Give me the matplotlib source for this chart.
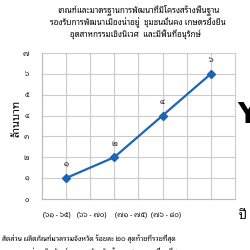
import matplotlib
matplotlib.use('Agg')
import matplotlib.pyplot as plt

plt.rcParams['font.family'] = ['Noto Sans Thai Looped', 'Loma', 'DejaVu Sans']

# data
periods = ['(๖๑ - ๖๕)', '(๖๖ - ๗๐)', '(๗๑ - ๗๕)', '(๗๖ - ๘๐)']
values = [1, 2, 4, 6]
value_labels = ['๑', '๒', '๔', '๖']
y_ticks = [0, 1, 2, 3, 4, 5, 6, 7]
y_tick_labels = ['๐', '๑', '๒', '๓', '๔', '๕', '๖', '๗']
title_lines = ['เกณฑ์และมาตรฐานการพัฒนาที่มีโครงสร้างพื้นฐาน',
               'รองรับการพัฒนาเมืองน่าอยู่  ชุมชนมั่นคง เกษตรยั่งยืน',
               'อุตสาหกรรมเชิงนิเวศ  และมีพื้นที่อนุรักษ์']
footer = 'สัดส่วน ผลิตภัณฑ์มวลรวมจังหวัด ร้อยละ ๒๐ สุดท้ายที่รวยที่สุด'
footer2 = 'ต่อ ผลิตภัณฑ์มวลรวมจังหวัด ร้อยละ ๒๐ แรกที่จนที่สุด'

blue = '#1e64b4'

fig = plt.figure(figsize=(2.5, 2.5), dpi=100)
ax = fig.add_axes([0.167, 0.204, 0.773, 0.584])

xpos = [1, 3, 5, 7]
ax.plot(xpos, values, color=blue, lw=1.6, marker='D', ms=4.5, clip_on=False)
for x, v, lab in zip(xpos, values, value_labels):
    ax.text(x, v + 0.62, lab, ha='center', va='center', fontsize=5.5)

ax.set_xlim(0, 8)
ax.set_ylim(0, 7)
ax.set_xticks(range(0, 9))
ax.set_xticklabels([])
ax.set_yticks(y_ticks)
ax.set_yticklabels(y_tick_labels, fontsize=5)
ax.tick_params(length=0, pad=9)
ax.grid(True, color='#cccccc', lw=0.8, clip_on=False)
ax.set_axisbelow(True)
for s in ax.spines.values():
    s.set_visible(False)
ax.spines['left'].set_visible(True)
ax.spines['bottom'].set_visible(True)
ax.spines['left'].set_color('#bbbbbb')
ax.spines['bottom'].set_color('#bbbbbb')

for xf, lab in zip([0.08, 0.26, 0.46, 0.645], periods):
    ax.text(xf, -0.11, lab, transform=ax.transAxes, ha='center', va='center', fontsize=5)
ax.text(1.02, -0.11, 'ปี', transform=ax.transAxes, ha='left', va='center',
        fontsize=9, fontweight='bold')

ax.set_ylabel('ล้านบาท', fontsize=8)
ax.yaxis.set_label_coords(-0.10, 0.555)

fig.text(0.552, 0.96, title_lines[0], ha='center', va='center', fontsize=5.8)
fig.text(0.552, 0.91, title_lines[1], ha='center', va='center', fontsize=5.8)
fig.text(0.54, 0.86, title_lines[2], ha='center', va='center', fontsize=5.8)

fig.text(0.95, 0.54, 'Y', ha='left', va='center', fontsize=20, fontweight='bold',
         family='DejaVu Sans')

fig.text(0.01, 0.045, footer, ha='left', va='center', fontsize=5)
fig.text(0.12, -0.005, footer2, ha='left', va='center', fontsize=5)

fig.savefig('out.png')
